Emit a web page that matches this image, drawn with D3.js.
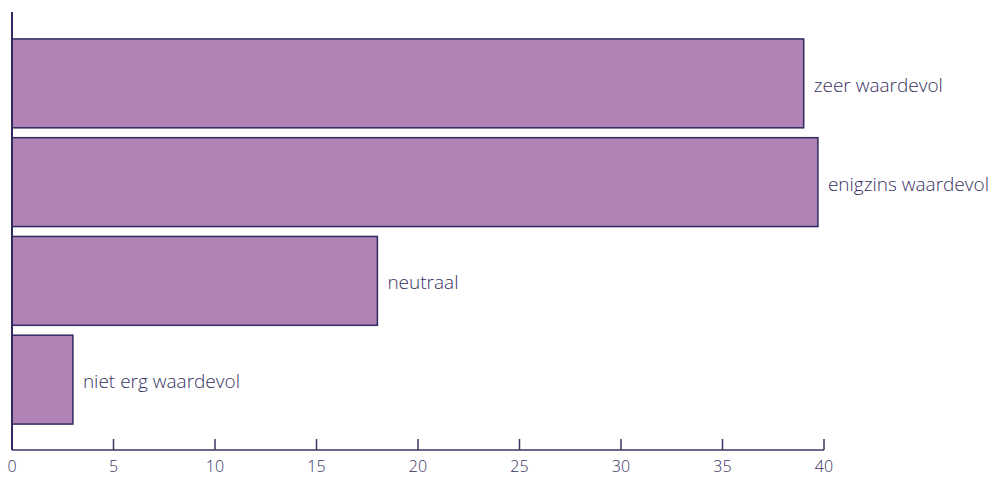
<!DOCTYPE html>
<html>
<head>
<meta charset="utf-8">
<script src="https://cdn.jsdelivr.net/npm/d3@7"></script>
<style>
  body { margin: 0; background: #fff; }
  text { font-family: "Open Sans", sans-serif; fill: #37325f; }
</style>
</head>
<body>
<div id="chart-area"></div>
<script>
var categories = ["zeer waardevol", "enigzins waardevol", "neutraal", "niet erg waardevol"];
var values = [39, 39.7, 18, 3];
var tickValues = [0, 5, 10, 15, 20, 25, 30, 35, 40];

var width = 996, height = 477;

var svg = d3.select("#chart-area")
    .append("svg")
    .attr("width", width)
    .attr("height", height);

var x = d3.scaleLinear()
    .domain([0, 40])
    .range([12, 824]);

var y = d3.scaleBand()
    .domain(categories)
    .range([34, 429])
    .paddingInner(0.1)
    .paddingOuter(0.05);

var axisY = 450;

// bars
svg.selectAll("rect.bar")
    .data(values)
    .enter()
    .append("rect")
        .attr("class", "bar")
        .attr("x", x(0))
        .attr("y", function(d, i){ return y(categories[i]); })
        .attr("width", function(d){ return x(d) - x(0); })
        .attr("height", y.bandwidth())
        .attr("fill", "#b082b6")
        .attr("stroke", "#2f2a60")
        .attr("stroke-width", 1.5);

// labels
svg.selectAll("text.label")
    .data(values)
    .enter()
    .append("text")
        .attr("class", "label")
        .attr("x", function(d){ return x(d) + 10; })
        .attr("y", function(d, i){ return y(categories[i]) + y.bandwidth() / 2; })
        .attr("dy", "0.45em")
        .attr("font-size", "19px")
        .attr("font-weight", 300)
        .text(function(d, i){ return categories[i]; });

// x axis
var xAxis = svg.append("g").attr("class", "x-axis");
xAxis.append("line")
    .attr("x1", x(0)).attr("x2", x(40))
    .attr("y1", axisY).attr("y2", axisY)
    .attr("stroke", "#3b3667").attr("stroke-width", 1.5);
xAxis.selectAll("line.tick")
    .data(tickValues.slice(1))
    .enter()
    .append("line")
        .attr("class", "tick")
        .attr("x1", function(d){ return x(d); })
        .attr("x2", function(d){ return x(d); })
        .attr("y1", axisY - 11).attr("y2", axisY)
        .attr("stroke", "#3b3667").attr("stroke-width", 1.5);
xAxis.selectAll("text")
    .data(tickValues)
    .enter()
    .append("text")
        .attr("x", function(d){ return x(d); })
        .attr("y", 472)
        .attr("text-anchor", "middle")
        .attr("font-size", "16px")
        .attr("font-weight", 300)
        .text(function(d){ return d; });

// y axis line
svg.append("line")
    .attr("x1", x(0)).attr("x2", x(0))
    .attr("y1", 12).attr("y2", axisY)
    .attr("stroke", "#2f2a60").attr("stroke-width", 2);
</script>
</body>
</html>
